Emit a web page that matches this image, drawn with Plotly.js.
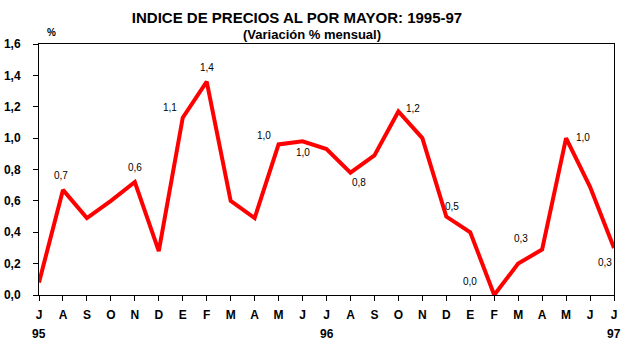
<!DOCTYPE html>
<html>
<head>
<meta charset="utf-8">
<script src="https://cdn.plot.ly/plotly-3.0.1.min.js"></script>
<style>html,body{margin:0;padding:0;background:#fff;}#chart{width:630px;height:347px;}</style>
</head>
<body>
<div id="chart"></div>
<script>
// Months Jul 1995 .. Jul 1997
var months = ["J","A","S","O","N","D","E","F","M","A","M","J","J","A","S","O","N","D","E","F","M","A","M","J","J"];
var values = [0.08,0.67,0.49,0.60,0.72,0.28,1.13,1.36,0.60,0.49,0.96,0.98,0.93,0.78,0.89,1.17,1.00,0.50,0.40,0.00,0.20,0.29,1.00,0.69,0.30];
var years = ["95","96","97"];
var yearIdx = [0,12,24];
var yTicks = [0,0.2,0.4,0.6,0.8,1.0,1.2,1.4,1.6];
var yTickText = ["0,0","0,2","0,4","0,6","0,8","1,0","1,2","1,4","1,6"];
// data labels as printed on the chart
var labelIdx  = [1,4,6,7,10,11,13,15,17,19,20,22,24];
var labelText = ["0,7","0,6","1,1","1,4","1,0","1,0","0,8","1,2","0,5","0,0","0,3","1,0","0,3"];
// label offsets (style): pixels [dx, dy(up)]
var labelOff = [[-2,14],[0,15],[-13,10],[0,14],[-15,9],[0,-11],[9,-10],[15,3],[6,10],[-24,14],[3,25],[17,1],[-9,-15]];

var xIdx = months.map(function(m,i){return i;});
var FONT = "Arial, 'Liberation Sans', sans-serif";

var trace = {
  x: xIdx, y: values, type: "scatter", mode: "lines",
  line: {color: "#ff0000", width: 4}, hoverinfo: "skip"
};

var ann = [];
labelIdx.forEach(function(idx,k){
  ann.push({x: idx, y: values[idx], xref: "x", yref: "y", text: labelText[k], showarrow: false,
    xshift: labelOff[k][0], yshift: labelOff[k][1], font: {family: FONT, size: 10, color: "#000"}});
});
years.forEach(function(yr,k){
  ann.push({x: yearIdx[k], y: 0, xref: "x", yref: "paper", yshift: -39, yanchor: "middle", text: yr, showarrow: false,
    font: {family: FONT, size: 12, color: "#000", weight: "bold"}});
});
ann.push({x: 12/575, xref: "paper", yref: "paper", y: 1, text: "%", showarrow: false,
  xanchor: "center", yanchor: "middle", yshift: 12, font: {family: FONT, size: 10, color: "#000", weight: "bold"}});
ann.push({x: (312-39)/575, xref: "paper", yref: "paper", y: 1, yshift: 0, text: "(Variación % mensual)", showarrow: false,
  xanchor: "center", yanchor: "bottom", font: {family: FONT, size: 13, color: "#000", weight: "bold"}});

var layout = {
  width: 630, height: 347,
  margin: {l: 39, r: 16, t: 44, b: 52},
  paper_bgcolor: "#fff", plot_bgcolor: "#fff",
  showlegend: false,
  title: {text: "INDICE DE PRECIOS AL POR MAYOR: 1995-97", x: 297/630, xanchor: "center", xref: "container",
    y: 1 - 18/347, yanchor: "middle", yref: "container",
    font: {family: FONT, size: 15, color: "#000", weight: "bold"}},
  xaxis: {range: [0,24], tickvals: xIdx, ticktext: months, showgrid: false, zeroline: false,
    showline: true, linecolor: "#000", linewidth: 1, mirror: true,
    ticks: "outside", ticklen: 5, tickcolor: "#000", tickwidth: 1, ticklabelstandoff: 4,
    tickfont: {family: FONT, size: 12, color: "#000", weight: "bold"}},
  yaxis: {range: [0,1.6], tickvals: yTicks, ticktext: yTickText, showgrid: false, zeroline: false,
    showline: true, linecolor: "#000", linewidth: 1, mirror: true,
    ticks: "outside", ticklen: 5, tickcolor: "#000", tickwidth: 1, ticklabelstandoff: 10,
    tickfont: {family: FONT, size: 12, color: "#000", weight: "bold"}},
  annotations: ann
};
Plotly.newPlot("chart", [trace], layout, {displayModeBar: false, staticPlot: true});
</script>
</body>
</html>
